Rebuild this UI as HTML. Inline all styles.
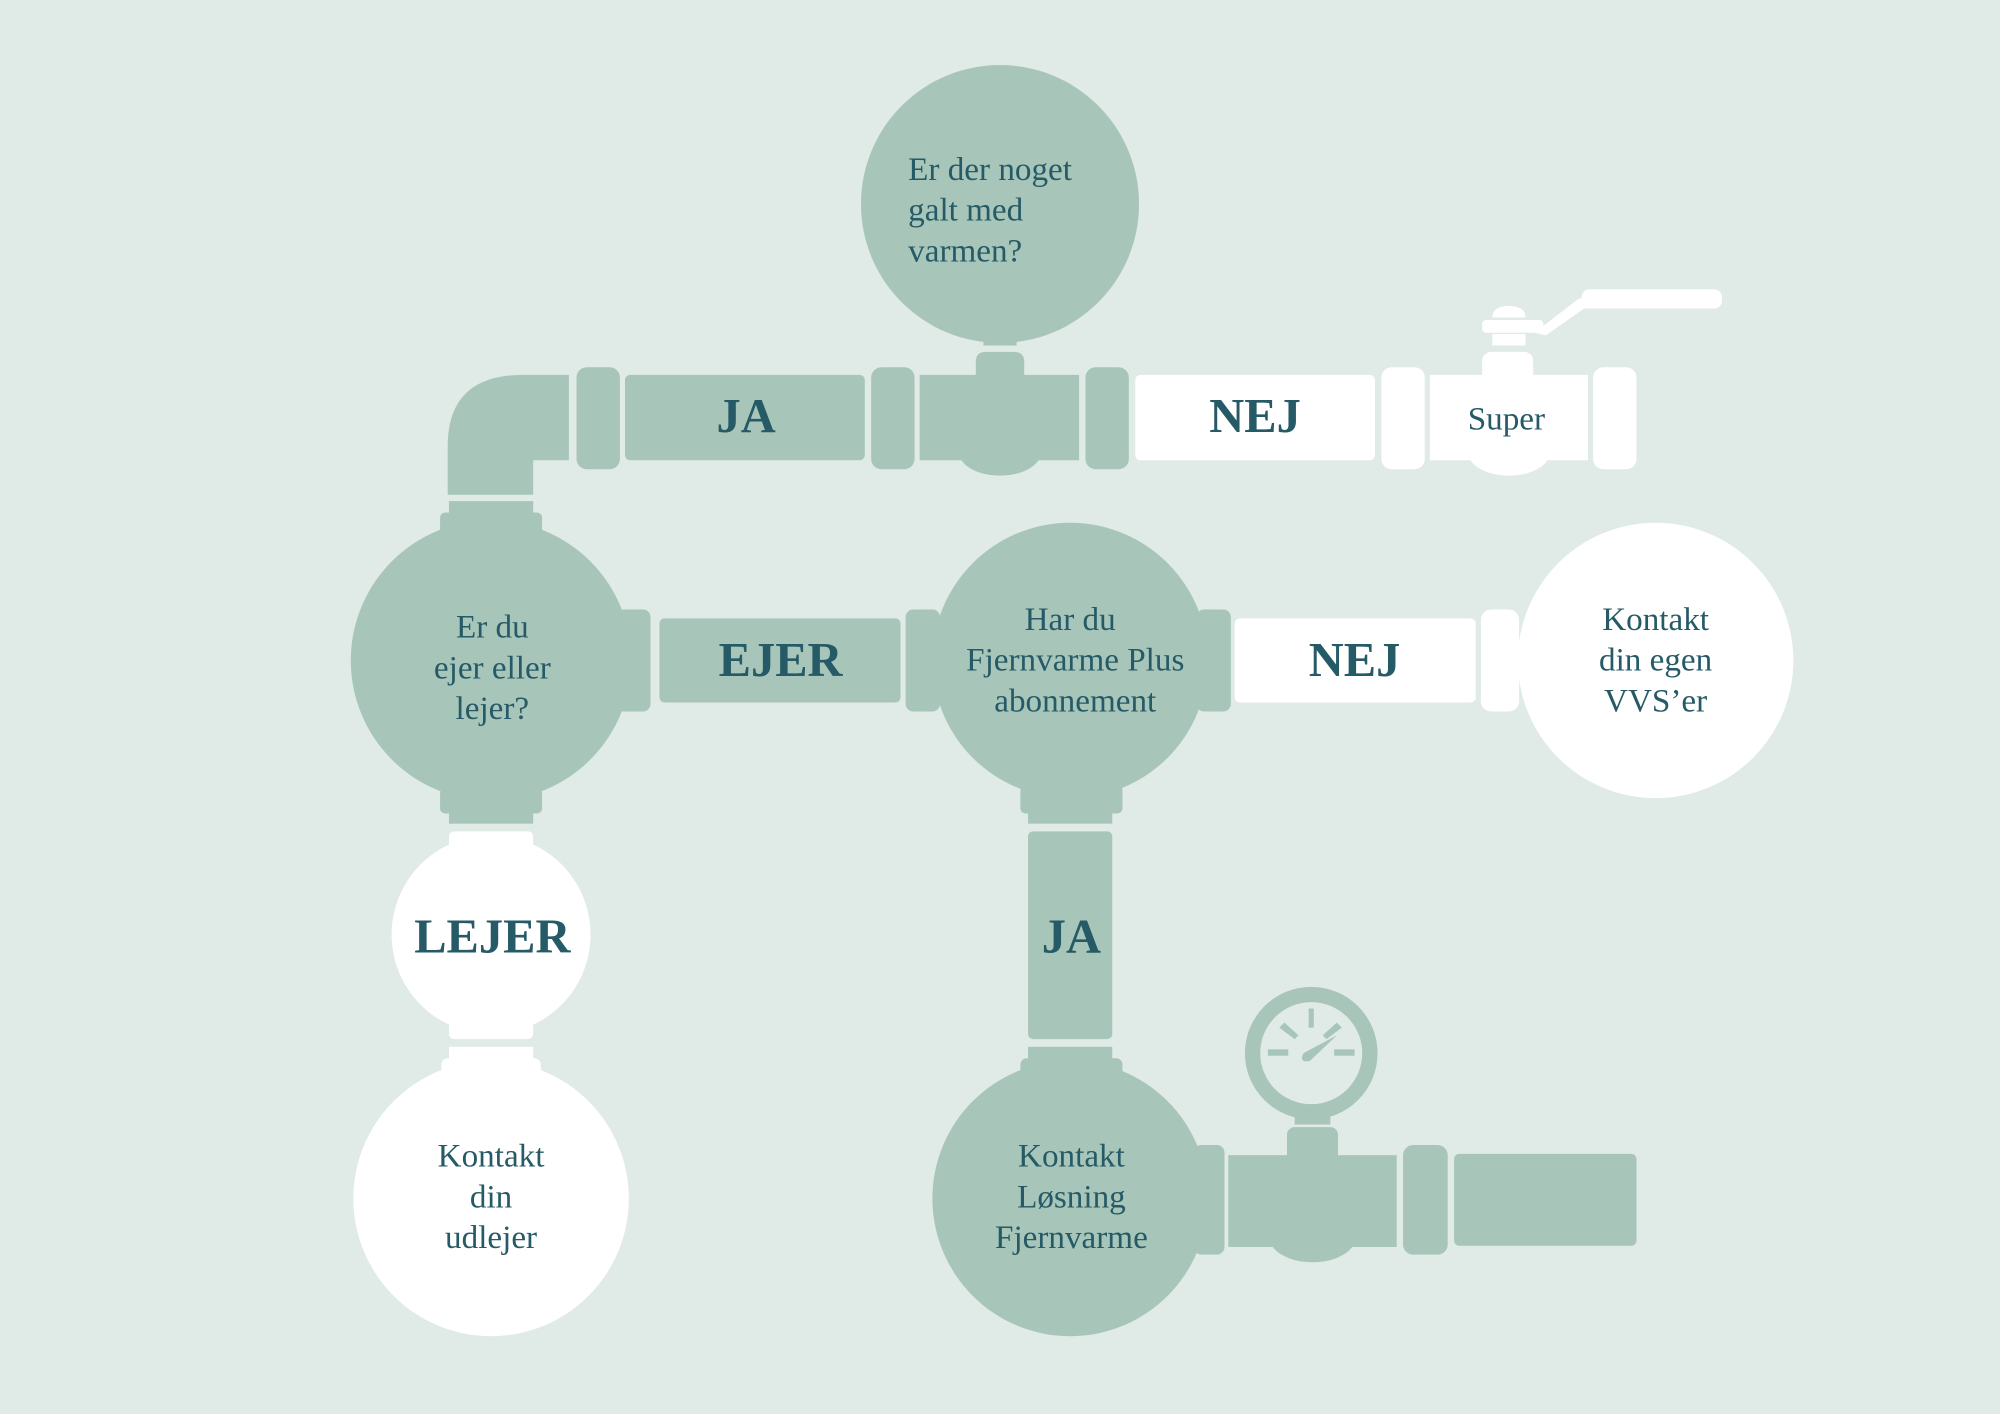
<!DOCTYPE html>
<html><head><meta charset="utf-8"><style>
html,body{margin:0;padding:0;background:#e0eae6;}
svg{display:block}
text{font-family:"Liberation Serif",serif;fill:#255a66;}
.q{font-size:26px;font-weight:normal;}
.l{font-size:38px;font-weight:bold;}
</style></head><body>
<svg width="2000" height="1414" viewBox="0 0 1568 1109" preserveAspectRatio="none" xmlns="http://www.w3.org/2000/svg">
<rect width="1568" height="1109" fill="#e0eae6"/>
<g fill="#a7c6b9">
 <circle cx="784" cy="160" r="109"/>
 <rect x="771" y="262" width="26" height="9"/>
 <path d="M446,294 L410,294 Q351,294 351,350 L351,388 L418,388 L418,361 L446,361 Z"/>
 <rect x="452" y="288" width="34" height="80" rx="8"/>
 <rect x="490" y="294" width="188" height="67" rx="4"/>
 <rect x="683" y="288" width="34" height="80" rx="8"/>
 <rect x="721" y="294" width="125" height="67"/>
 <ellipse cx="784" cy="355" rx="32" ry="18"/>
 <path d="M765,296 L765,284 Q765,276 773,276 L795,276 Q803,276 803,284 L803,296 Q820,296 822,296 L746,296 Z"/>
 <rect x="851" y="288" width="34" height="80" rx="8"/>
 <rect x="352" y="393" width="66" height="10"/>
 <rect x="345" y="402" width="80" height="20" rx="4"/>
 <circle cx="385" cy="518" r="110"/>
 <rect x="345" y="618" width="80" height="20" rx="4"/>
 <rect x="352" y="636" width="66" height="10"/>
 <rect x="483" y="478" width="27" height="80" rx="6"/>
 <rect x="517" y="485" width="189" height="66" rx="4"/>
 <rect x="710" y="478" width="27" height="80" rx="6"/>
 <circle cx="839" cy="518" r="108"/>
 <rect x="938" y="478" width="27" height="80" rx="6"/>
 <rect x="800" y="616" width="80" height="22" rx="4"/>
 <rect x="806" y="636" width="66" height="10"/>
 <rect x="806" y="652" width="66" height="163" rx="4"/>
 <rect x="806" y="821" width="66" height="12"/>
 <rect x="800" y="830" width="80" height="28" rx="5"/>
 <circle cx="839" cy="940" r="108"/>
 <rect x="936" y="898" width="24" height="86" rx="6"/>
 <rect x="963" y="906" width="132" height="72"/>
 <ellipse cx="1029" cy="970" rx="34" ry="20"/>
 <rect x="1009" y="884" width="40" height="30" rx="6"/>
 <rect x="1015" y="870" width="28" height="12"/>
 <circle cx="1028" cy="826" r="52"/>
 <rect x="1100" y="898" width="35" height="86" rx="8"/>
 <rect x="1140" y="905" width="143" height="72" rx="4"/>
</g>
<circle cx="1028" cy="826" r="40" fill="#e0eae6"/>
<g fill="#a7c6b9">
 <rect x="1026" y="791" width="4" height="15"/>
 <rect x="994" y="823" width="16" height="5"/>
 <rect x="1046" y="823" width="16" height="5"/>
 <path d="M1003,806 l4,-4 l11,10 l-3,3 Z"/>
 <path d="M1052,806 l-4,-4 l-11,10 l3,3 Z"/>
 <path d="M1022,826 L1048,812 L1027,832 Q1018,834 1022,826 Z"/>
</g>
<g fill="#ffffff">
 <rect x="890" y="294" width="188" height="67" rx="4"/>
 <rect x="1083" y="288" width="34" height="80" rx="8"/>
 <rect x="1121" y="294" width="124" height="67"/>
 <ellipse cx="1183" cy="355" rx="32" ry="18"/>
 <rect x="1162" y="276" width="40" height="26" rx="7"/>
 <rect x="1170" y="262" width="26" height="9"/>
 <path d="M1170,249 Q1170,240 1183,240 Q1196,240 1196,249 Z"/>
 <rect x="1162" y="251" width="48" height="10" rx="3"/>
 <path d="M1203,261 L1238,234 L1246,234 L1246,242 L1242,242 L1212,263 Z"/>
 <rect x="1240" y="227" width="110" height="15" rx="6"/>
 <rect x="1249" y="288" width="34" height="80" rx="8"/>
 <rect x="968" y="485" width="189" height="66" rx="4"/>
 <rect x="1161" y="478" width="30" height="80" rx="8"/>
 <circle cx="1298" cy="518" r="108"/>
 <rect x="352" y="652" width="66" height="30" rx="4"/>
 <circle cx="385" cy="733" r="78"/>
 <rect x="352" y="790" width="66" height="25" rx="4"/>
 <rect x="352" y="821" width="66" height="12"/>
 <rect x="346" y="830" width="78" height="30" rx="5"/>
 <circle cx="385" cy="940" r="108"/>
</g>
<text class="q" x="712" y="141">Er der noget</text>
<text class="q" x="712" y="173">galt med</text>
<text class="q" x="712" y="205">varmen?</text>
<text class="l" x="585" y="339" text-anchor="middle">JA</text>
<text class="l" x="984" y="339" text-anchor="middle">NEJ</text>
<text class="q" x="1181" y="337" text-anchor="middle">Super</text>
<g text-anchor="middle" class="q">
 <text x="386" y="500">Er du</text>
 <text x="386" y="532">ejer eller</text>
 <text x="386" y="564">lejer?</text>
 <text x="839" y="494">Har du</text>
 <text x="843" y="526">Fjernvarme Plus</text>
 <text x="843" y="558">abonnement</text>
 <text x="1298" y="494">Kontakt</text>
 <text x="1298" y="526">din egen</text>
 <text x="1298" y="558">VVS’er</text>
 <text x="385" y="915">Kontakt</text>
 <text x="385" y="947">din</text>
 <text x="385" y="979">udlejer</text>
 <text x="840" y="915">Kontakt</text>
 <text x="840" y="947">Løsning</text>
 <text x="840" y="979">Fjernvarme</text>
</g>
<text class="l" x="612" y="530" text-anchor="middle">EJER</text>
<text class="l" x="1062" y="530" text-anchor="middle">NEJ</text>
<text class="l" x="386" y="747" text-anchor="middle">LEJER</text>
<text class="l" x="840" y="747" text-anchor="middle">JA</text>
</svg>
</body></html>
